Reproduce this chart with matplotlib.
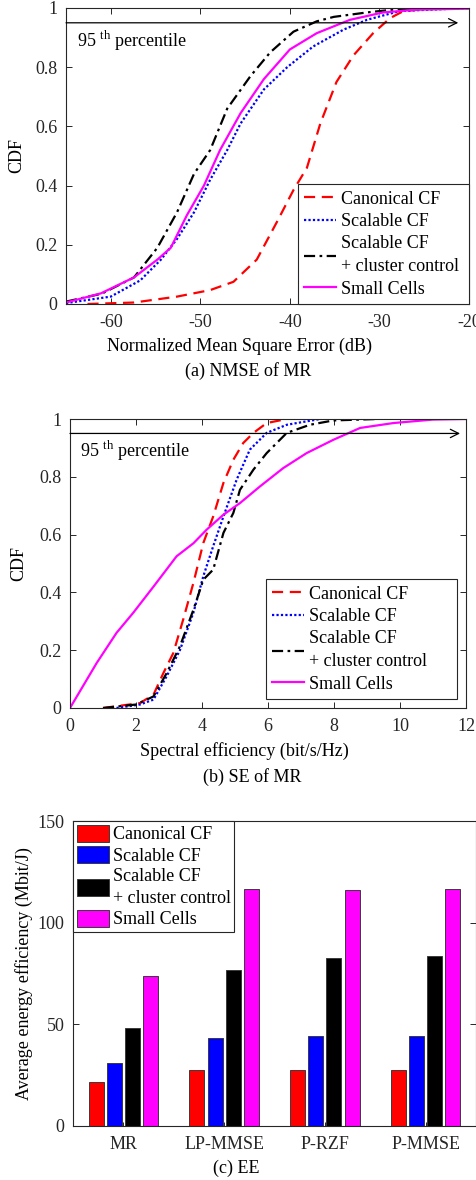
import matplotlib
matplotlib.use("Agg")
import matplotlib.pyplot as plt
import numpy as np

plt.rcParams["font.family"] = ["Liberation Serif", "DejaVu Serif"]
plt.rcParams["mathtext.fontset"] = "custom"
plt.rcParams["mathtext.rm"] = "Liberation Serif"
plt.rcParams["axes.unicode_minus"] = False
plt.rcParams["axes.edgecolor"] = "#262626"
plt.rcParams["xtick.color"] = "#262626"
plt.rcParams["ytick.color"] = "#262626"

schemes = ["Canonical CF", "Scalable CF", "Scalable CF\n+ cluster control", "Small Cells"]
colors = ["#ff0000", "#0000ff", "#000000", "#ff00ff"]
styles = [(0, (5, 3)), (0, (1, 1)), (0, (5, 2, 1.2, 2)), "-"]

# (a) NMSE of MR
nmse_canonical_x = [-62.6, -57.4, -52.6, -48.9, -46.3, -43.7, -41.4, -39.6, -38.1, -36.6, -34.8, -32.9, -30.7, -28.8, -27.3, -24.0, -20.0]
nmse_canonical_y = [0, 0.005, 0.025, 0.047, 0.075, 0.15, 0.28, 0.385, 0.46, 0.61, 0.75, 0.84, 0.915, 0.966, 0.99, 0.998, 1.0]
nmse_scalable_x = [-65, -60, -56.7, -54.4, -52.6, -50.7, -48.9, -47.0, -45.5, -42.9, -40.3, -37.4, -34.0, -31.4, -27.7, -20]
nmse_scalable_y = [0.003, 0.025, 0.08, 0.15, 0.22, 0.31, 0.42, 0.52, 0.61, 0.725, 0.80, 0.87, 0.927, 0.96, 0.99, 1.0]
nmse_cluster_x = [-65, -61, -57.4, -54.8, -52.6, -50.7, -48.9, -47.0, -44.4, -42.2, -39.6, -37.0, -35.1, -31.4, -27.7, -24, -20]
nmse_cluster_y = [0.008, 0.035, 0.09, 0.19, 0.31, 0.44, 0.52, 0.66, 0.77, 0.85, 0.92, 0.955, 0.97, 0.985, 0.997, 1.0, 1.0]
nmse_small_x = [-65, -61.1, -57.4, -54.8, -53.3, -51.5, -49.6, -47.8, -45.5, -42.9, -40.0, -37.0, -33.3, -29.6, -25.9, -20]
nmse_small_y = [0.005, 0.036, 0.09, 0.15, 0.19, 0.30, 0.40, 0.52, 0.645, 0.76, 0.86, 0.915, 0.96, 0.985, 0.994, 0.998]

# (b) SE of MR
se_canonical_x = [1.0, 2.12, 2.53, 2.83, 3.13, 3.43, 3.74, 4.04, 4.34, 4.65, 4.95, 5.25, 5.56, 5.96, 6.57]
se_canonical_y = [0, 0.017, 0.046, 0.121, 0.19, 0.306, 0.433, 0.571, 0.663, 0.779, 0.859, 0.917, 0.952, 0.986, 1.0]
se_scalable_x = [1.41, 2.12, 2.53, 2.93, 3.33, 3.74, 4.04, 4.34, 4.65, 5.05, 5.45, 5.96, 6.57, 7.58]
se_scalable_y = [0, 0.012, 0.029, 0.11, 0.2, 0.33, 0.456, 0.56, 0.663, 0.79, 0.894, 0.952, 0.98, 1.0]
se_cluster_x = [1.0, 2.0, 2.53, 2.93, 3.33, 3.74, 4.04, 4.34, 4.65, 4.95, 5.15, 5.56, 5.96, 6.57, 7.27, 7.98, 9.3]
se_cluster_y = [0, 0.012, 0.04, 0.121, 0.213, 0.34, 0.444, 0.479, 0.606, 0.675, 0.755, 0.825, 0.882, 0.952, 0.98, 0.995, 1.0]
se_small_x = [0, 0.81, 1.41, 1.92, 2.53, 3.23, 3.74, 4.14, 4.65, 5.15, 5.76, 6.46, 7.17, 7.98, 8.79, 9.8, 11.0, 12.0]
se_small_y = [0, 0.156, 0.26, 0.33, 0.42, 0.525, 0.57, 0.617, 0.669, 0.709, 0.767, 0.83, 0.882, 0.928, 0.969, 0.986, 0.998, 1.0]

# (c) EE
precoders = ["MR", "LP-MMSE", "P-RZF", "P-MMSE"]
ee_canonical = [21.7, 27.7, 27.7, 27.7]
ee_scalable = [31.2, 43.5, 44.5, 44.5]
ee_cluster = [48.3, 76.6, 82.7, 83.5]
ee_small = [74.0, 116.7, 116.2, 116.4]

FS = 13
W, H = 477, 1180
fig = plt.figure(figsize=(W / 100, H / 100), dpi=100)


def frac_axes(left, top, right, bottom):
    return fig.add_axes([left / W, 1 - bottom / H, (right - left) / W, (bottom - top) / H])


def style_axes(ax):
    ax.tick_params(direction="in", top=True, right=True, labelsize=FS, length=4, width=0.7)
    ax.tick_params(axis="x", pad=7)
    ax.tick_params(axis="y", pad=6)
    for s in ax.spines.values():
        s.set_linewidth(0.8)


def boxed_legend(ax, bbox, loc, handlelength, **kw):
    leg = ax.legend(loc=loc, bbox_to_anchor=bbox, mode="expand", borderaxespad=0,
                    fontsize=FS, handlelength=handlelength, handletextpad=0.3,
                    labelspacing=0.3, borderpad=0.35, fancybox=False,
                    framealpha=1, edgecolor="#262626", **kw)
    leg.get_frame().set_linewidth(0.8)
    for t in leg.get_texts():
        t.set_linespacing(1.45)
    return leg


def cdf_panel(ax, curves, xlim, xticks, xlabel, arrow_end, txt_x):
    for (x, y), c, ls, lab in zip(curves, colors, styles, schemes):
        ax.plot(x, y, color=c, linestyle=ls, linewidth=1.6, label=lab)
    ax.set_xlim(*xlim)
    ax.set_ylim(0, 1)
    ax.set_xticks(xticks)
    ax.set_yticks([0, 0.2, 0.4, 0.6, 0.8, 1])
    ax.set_yticklabels(["0", "0.2", "0.4", "0.6", "0.8", "1"])
    style_axes(ax)
    ax.annotate("", xy=(arrow_end, 0.95), xytext=(xlim[0], 0.95),
                arrowprops=dict(arrowstyle="->", color="black", lw=0.9,
                                shrinkA=0, shrinkB=0, mutation_scale=15))
    ax.text(txt_x, 0.89, r"95 $^{\mathrm{th}}$ percentile", fontsize=FS,
            va="center", ha="left")
    ax.set_ylabel("CDF", fontsize=FS)
    ax.set_xlabel(xlabel, fontsize=FS)


# Panel (a)
ax1 = frac_axes(66, 8, 469, 304)
cdf_panel(ax1,
          [(nmse_canonical_x, nmse_canonical_y), (nmse_scalable_x, nmse_scalable_y),
           (nmse_cluster_x, nmse_cluster_y), (nmse_small_x, nmse_small_y)],
          (-65, -20), [-60, -50, -40, -30, -20],
          "Normalized Mean Square Error (dB)", -21.2, -63.8)
ax1.xaxis.set_label_coords(0.43, -0.115)
ax1.yaxis.set_label_coords(-0.10, 0.5)
boxed_legend(ax1, (0.576, 0.0, 0.424, 0.4), "lower left", 1.75)
fig.text(248 / W, 1 - 371 / H, "(a) NMSE of MR", fontsize=FS, ha="center", va="center")

# Panel (b)
ax2 = frac_axes(70, 419, 466, 708)
cdf_panel(ax2,
          [(se_canonical_x, se_canonical_y), (se_scalable_x, se_scalable_y),
           (se_cluster_x, se_cluster_y), (se_small_x, se_small_y)],
          (0, 12), [0, 2, 4, 6, 8, 10, 12],
          "Spectral efficiency (bit/s/Hz)", 11.82, 0.3)
ax2.xaxis.set_label_coords(0.44, -0.118)
ax2.yaxis.set_label_coords(-0.108, 0.5)
boxed_legend(ax2, (0.495, 0.031, 0.482, 0.39), "lower left", 1.75)
fig.text(252 / W, 1 - 777 / H, "(b) SE of MR", fontsize=FS, ha="center", va="center")

# Panel (c)
ax3 = frac_axes(73, 821, 476, 1126)
pos = np.arange(1, len(precoders) + 1)
offsets = [-0.27, -0.09, 0.09, 0.27]
for vals, off, c, lab in zip([ee_canonical, ee_scalable, ee_cluster, ee_small],
                             offsets, colors, schemes):
    ax3.bar(pos + off, vals, width=0.15, color=c, edgecolor="#3a3a3a",
            linewidth=0.7, label=lab)
ax3.set_xlim(0.5, 4.5)
ax3.set_ylim(0, 150)
ax3.set_xticks(pos)
ax3.set_xticklabels(precoders)
ax3.set_yticks([0, 50, 100, 150])
style_axes(ax3)
ax3.tick_params(axis="x", top=False, length=3)
ax3.set_ylabel("Average energy efficiency (Mbit/J)", fontsize=FS)
ax3.yaxis.set_label_coords(-0.10, 0.5)
leg3 = ax3.legend(loc="upper left", bbox_to_anchor=(0, 1), borderaxespad=0,
                  fontsize=FS, handlelength=1.8, handleheight=1.1,
                  handletextpad=0.2, labelspacing=0.15, borderpad=0.2,
                  fancybox=False, framealpha=1, edgecolor="#262626")
leg3.get_frame().set_linewidth(0.8)
for t in leg3.get_texts():
    t.set_linespacing(1.4)
fig.text(236 / W, 1 - 1168 / H, "(c) EE", fontsize=FS, ha="center", va="center")

fig.savefig("out.png", dpi=100)
